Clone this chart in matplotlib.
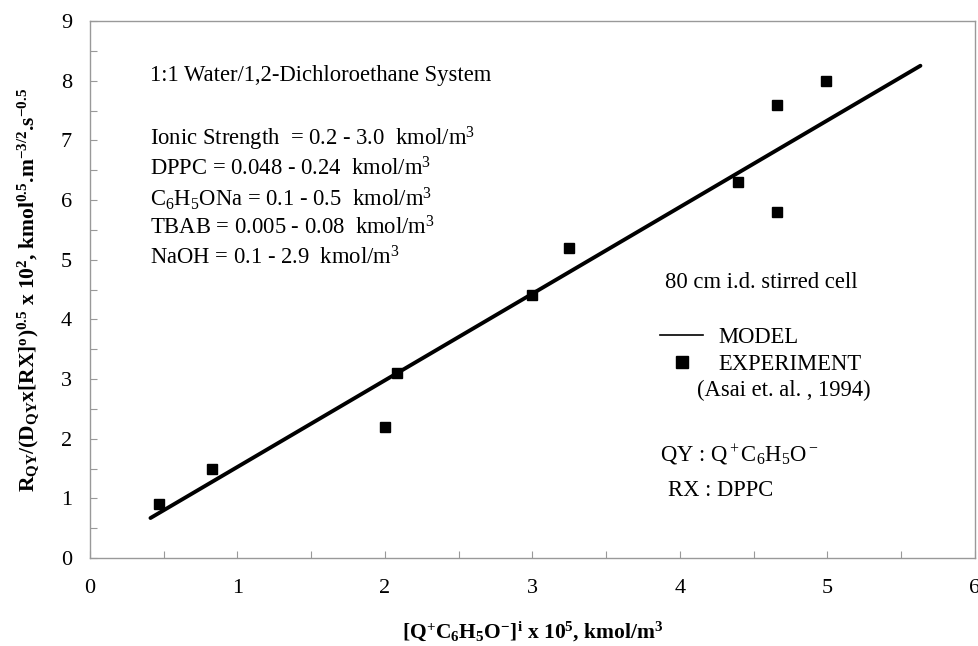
import matplotlib
matplotlib.use("Agg")
import matplotlib.pyplot as plt
from matplotlib.lines import Line2D
from matplotlib.ticker import MultipleLocator

plt.rcParams['font.family'] = ['Liberation Serif', 'DejaVu Serif']
plt.rcParams['mathtext.fontset'] = 'custom'
plt.rcParams['mathtext.rm'] = 'Liberation Serif'
plt.rcParams['mathtext.it'] = 'Liberation Serif:italic'
plt.rcParams['mathtext.bf'] = 'Liberation Serif:bold'

# Data
exp_x = [0.47, 0.83, 2.00, 2.08, 3.00, 3.25, 4.39, 4.66, 4.66, 4.99]
exp_y = [0.90, 1.50, 2.20, 3.10, 4.40, 5.20, 6.30, 7.60, 5.80, 8.00]
model_x = [0.41, 5.63]
model_y = [0.67, 8.25]

x_ticks = [0, 1, 2, 3, 4, 5, 6]
y_ticks = [0, 1, 2, 3, 4, 5, 6, 7, 8, 9]

fig = plt.figure(figsize=(9.79, 6.46), dpi=100)
ax = fig.add_axes([90/979, 1-558/646, 885/979, 537/646])

gray = '#999999'
line_model, = ax.plot(model_x, model_y, color='black', lw=2.8, solid_capstyle='round')
pts, = ax.plot(exp_x, exp_y, ls='none', marker='s', ms=7.5, color='black')

ax.set_xlim(0, 6)
ax.set_ylim(0, 9)
ax.set_xticks(x_ticks)
ax.set_yticks(y_ticks)
ax.xaxis.set_minor_locator(MultipleLocator(0.5))
ax.yaxis.set_minor_locator(MultipleLocator(0.5))
for s in ax.spines.values():
    s.set_color(gray)
    s.set_linewidth(1.0)
ax.tick_params(which='both', direction='in', length=5, width=0.8, color=gray,
               labelsize=16)
ax.tick_params(axis='x', which='major', pad=15)
ax.tick_params(axis='y', which='major', pad=13)

ax.set_xlabel(r'[Q$^{\mathbf{+}}$C$_{\mathbf{6}}$H$_{\mathbf{5}}$O$^{\mathbf{-}}$]$^{\mathbf{i}}$ x 10$^{\mathbf{5}}$, kmol/m$^{\mathbf{3}}$',
              fontsize=15.5, fontweight='bold', labelpad=16)
ax.set_ylabel(r'R$_{\mathbf{QY}}$/(D$_{\mathbf{QY}}$x[RX]$^{\mathbf{o}}$)$^{\mathbf{0.5}}$ x 10$^{\mathbf{2}}$, kmol$^{\mathbf{0.5}}$.m$^{\mathbf{-3/2}}$.s$^{\mathbf{-0.5}}$',
              fontsize=15.5, fontweight='bold', labelpad=14)

fs = 16.3
def ptx(px):
    return (px - 90) / 885
def pty(py):
    return (558 - py) / 537

ax.text(ptx(150), pty(76), '1:1 Water/1,2-Dichloroethane System', fontsize=fs,
        transform=ax.transAxes, va='center', ha='left')
lines = [r'Ionic Strength  = 0.2 - 3.0  kmol/m$^3$',
         r'DPPC = 0.048 - 0.24  kmol/m$^3$',
         r'C$_6$H$_5$ONa = 0.1 - 0.5  kmol/m$^3$',
         r'TBAB = 0.005 - 0.08  kmol/m$^3$',
         r'NaOH = 0.1 - 2.9  kmol/m$^3$']
ys = [139, 169, 199, 228, 258]
for t, yy in zip(lines, ys):
    ax.text(ptx(150), pty(yy), t, fontsize=fs, transform=ax.transAxes,
            va='center', ha='left')

ax.text(ptx(665), pty(283), '80 cm i.d. stirred cell', fontsize=fs,
        transform=ax.transAxes, va='center', ha='left')

leg = ax.legend([Line2D([], [], color='black', lw=1.2),
                 Line2D([], [], ls='none', marker='s', ms=8, color='black')],
                ['MODEL', 'EXPERIMENT'], loc='upper left',
                bbox_to_anchor=(ptx(660), pty(327)), frameon=False,
                fontsize=fs, handlelength=1.9, handletextpad=0.68,
                labelspacing=0.27, borderpad=0, borderaxespad=0)

ax.text(ptx(697), pty(390), '(Asai et. al. , 1994)', fontsize=fs,
        transform=ax.transAxes, va='center', ha='left')
ax.text(ptx(660), pty(455), r'QY : Q$^+$C$_6$H$_5$O$^-$', fontsize=fs,
        transform=ax.transAxes, va='center', ha='left')
ax.text(ptx(668), pty(491), 'RX : DPPC', fontsize=fs,
        transform=ax.transAxes, va='center', ha='left')

fig.savefig('out.png', dpi=100)
